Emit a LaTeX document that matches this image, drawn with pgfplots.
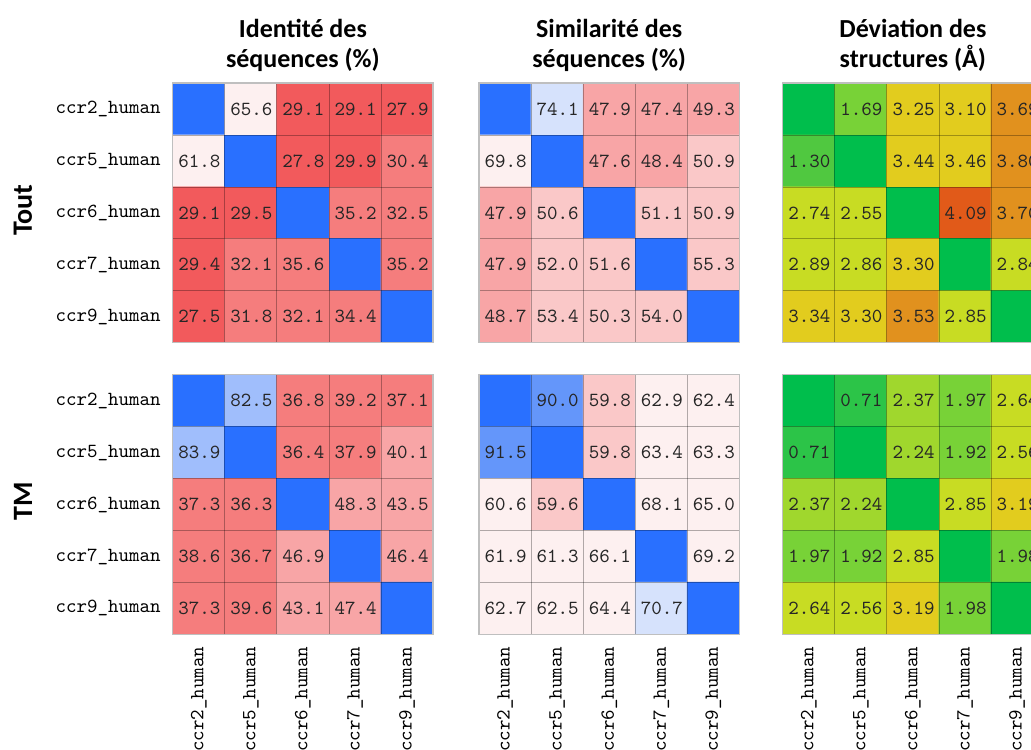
\documentclass[border=0pt]{standalone}
\usepackage{fontspec}
\setmainfont{Carlito}
\usepackage{pgfplots}
\usepackage{pgfplotstable}
\pgfplotsset{compat=1.18}

% rows: 0=ccr2, 1=ccr5, 2=ccr6, 3=ccr7, 4=ccr9 ; x = column, y = row
\pgfplotstableread{
x y v
0 0 100
1 0 65.6
2 0 29.1
3 0 29.1
4 0 27.9
0 1 61.8
1 1 100
2 1 27.8
3 1 29.9
4 1 30.4
0 2 29.1
1 2 29.5
2 2 100
3 2 35.2
4 2 32.5
0 3 29.4
1 3 32.1
2 3 35.6
3 3 100
4 3 35.2
0 4 27.5
1 4 31.8
2 4 32.1
3 4 34.4
4 4 100
}\idTout

\pgfplotstableread{
x y v
0 0 100
1 0 82.5
2 0 36.8
3 0 39.2
4 0 37.1
0 1 83.9
1 1 100
2 1 36.4
3 1 37.9
4 1 40.1
0 2 37.3
1 2 36.3
2 2 100
3 2 48.3
4 2 43.5
0 3 38.6
1 3 36.7
2 3 46.9
3 3 100
4 3 46.4
0 4 37.3
1 4 39.6
2 4 43.1
3 4 47.4
4 4 100
}\idTM

\pgfplotstableread{
x y v
0 0 100
1 0 74.1
2 0 47.9
3 0 47.4
4 0 49.3
0 1 69.8
1 1 100
2 1 47.6
3 1 48.4
4 1 50.9
0 2 47.9
1 2 50.6
2 2 100
3 2 51.1
4 2 50.9
0 3 47.9
1 3 52.0
2 3 51.6
3 3 100
4 3 55.3
0 4 48.7
1 4 53.4
2 4 50.3
3 4 54.0
4 4 100
}\simTout

\pgfplotstableread{
x y v
0 0 100
1 0 90.0
2 0 59.8
3 0 62.9
4 0 62.4
0 1 91.5
1 1 100
2 1 59.8
3 1 63.4
4 1 63.3
0 2 60.6
1 2 59.6
2 2 100
3 2 68.1
4 2 65.0
0 3 61.9
1 3 61.3
2 3 66.1
3 3 100
4 3 69.2
0 4 62.7
1 4 62.5
2 4 64.4
3 4 70.7
4 4 100
}\simTM

\pgfplotstableread{
x y v
0 0 0
1 0 1.69
2 0 3.25
3 0 3.10
4 0 3.69
0 1 1.30
1 1 0
2 1 3.44
3 1 3.46
4 1 3.80
0 2 2.74
1 2 2.55
2 2 0
3 2 4.09
4 2 3.70
0 3 2.89
1 3 2.86
2 3 3.30
3 3 0
4 3 2.84
0 4 3.34
1 4 3.30
2 4 3.53
3 4 2.85
4 4 0
}\rmTout

\pgfplotstableread{
x y v
0 0 0
1 0 0.71
2 0 2.37
3 0 1.97
4 0 2.64
0 1 0.71
1 1 0
2 1 2.24
3 1 1.92
4 1 2.56
0 2 2.37
1 2 2.24
2 2 0
3 2 2.85
4 2 3.19
0 3 1.97
1 3 1.92
2 3 2.85
3 3 0
4 3 1.98
0 4 2.64
1 4 2.56
2 4 3.19
3 4 1.98
4 4 0
}\rmTM

\newcommand\labfont{\fontsize{10}{12}\selectfont\ttfamily}

\pgfplotsset{
  colormap={idcm}{rgb255=(255,255,255) rgb255=(240,70,72) rgb255=(242,90,92)
    rgb255=(245,125,125) rgb255=(248,165,166) rgb255=(250,200,200)
    rgb255=(253,240,240) rgb255=(214,226,252) rgb255=(160,190,252)
    rgb255=(100,150,250) rgb255=(41,112,255)},
  colormap={rmcm}{rgb255=(0,190,76) rgb255=(44,196,72) rgb255=(80,200,64)
    rgb255=(120,210,55) rgb255=(160,215,45) rgb255=(200,220,35)
    rgb255=(226,204,30) rgb255=(225,145,30) rgb255=(225,90,25)},
  every axis title/.style={at={(0.5,1)}, anchor=south, inner sep=0pt, yshift=5.8pt,
    align=center, font=\fontsize{13}{15}\selectfont\bfseries},
  hm/.style={
    scale only axis, width=130.2pt, height=129.8pt, anchor=south west,
    xmin=-0.5, xmax=4.5, ymin=-0.5, ymax=4.5, y dir=reverse,
    xtick={0,...,4}, ytick={0,...,4},
    xticklabels={{},{},{},{},{}}, yticklabels={{},{},{},{},{}},
    major tick length=0pt, minor tick length=0pt,
    minor xtick={0.5,1.5,2.5,3.5}, minor ytick={0.5,1.5,2.5,3.5},
    xminorgrids, yminorgrids,
    minor grid style={black, opacity=0.3, line width=0.4pt},
    axis on top,
    axis line style={black!25, line width=0.6pt},
    tick label style={font=\labfont},
    colormap access=direct,
  },
  ylab/.style={
    yticklabels={ccr2\_human,ccr5\_human,ccr6\_human,ccr7\_human,ccr9\_human},
    yticklabel style={anchor=east, inner xsep=5.85pt, inner ysep=0pt}},
  xlab/.style={
    xticklabels={ccr2\_human,ccr5\_human,ccr6\_human,ccr7\_human,ccr9\_human},
    xticklabel style={rotate=90, anchor=east, inner xsep=6pt, inner ysep=0pt}},
  lbl/.style={draw=none, mark=none, nodes near coords, point meta=explicit symbolic,
    restrict expr to domain={\thisrow{x}==\thisrow{y}}{0:0},
    nodes near coords style={anchor=east, xshift=11pt, inner sep=0pt, font=\labfont, text=black!85}},
}

\begin{document}
\begin{tikzpicture}
\useasboundingbox (0,0) rectangle (515.5pt,374.5pt);

% ---- top row (Tout) ----
\begin{axis}[hm, ylab, at={(86.35pt,203.15pt)}, colormap name=idcm,
  title={Identité des\\séquences (\%)}]
\addplot[matrix plot*, mesh/cols=5, point meta={floor(\thisrow{v}/10)}] table {\idTout};
\addplot[lbl] table[meta=v] {\idTout};
\end{axis}

\begin{axis}[hm, at={(239.5pt,203.15pt)}, colormap name=idcm,
  title={Similarité des\\séquences (\%)}]
\addplot[matrix plot*, mesh/cols=5, point meta={floor(\thisrow{v}/10)}] table {\simTout};
\addplot[lbl] table[meta=v] {\simTout};
\end{axis}

\begin{axis}[hm, at={(391.35pt,203.15pt)}, colormap name=rmcm,
  title={Déviation des\\structures (Å)}]
\addplot[matrix plot*, mesh/cols=5, point meta={floor(2*\thisrow{v})}] table {\rmTout};
\addplot[lbl] table[meta=v] {\rmTout};
\end{axis}

% ---- bottom row (TM) ----
\begin{axis}[hm, ylab, xlab, at={(86.35pt,57.35pt)}, colormap name=idcm]
\addplot[matrix plot*, mesh/cols=5, point meta={floor(\thisrow{v}/10)}] table {\idTM};
\addplot[lbl] table[meta=v] {\idTM};
\end{axis}

\begin{axis}[hm, xlab, at={(239.5pt,57.35pt)}, colormap name=idcm]
\addplot[matrix plot*, mesh/cols=5, point meta={floor(\thisrow{v}/10)}] table {\simTM};
\addplot[lbl] table[meta=v] {\simTM};
\end{axis}

\begin{axis}[hm, xlab, at={(391.35pt,57.35pt)}, colormap name=rmcm]
\addplot[matrix plot*, mesh/cols=5, point meta={floor(2*\thisrow{v})}] table {\rmTM};
\addplot[lbl] table[meta=v] {\rmTM};
\end{axis}

\node[rotate=90, font=\fontsize{14}{16}\selectfont\bfseries] at (11.5pt,269.5pt) {Tout};
\node[rotate=90, font=\fontsize{14}{16}\selectfont\bfseries] at (11.5pt,124pt) {TM};
\end{tikzpicture}
\end{document}
